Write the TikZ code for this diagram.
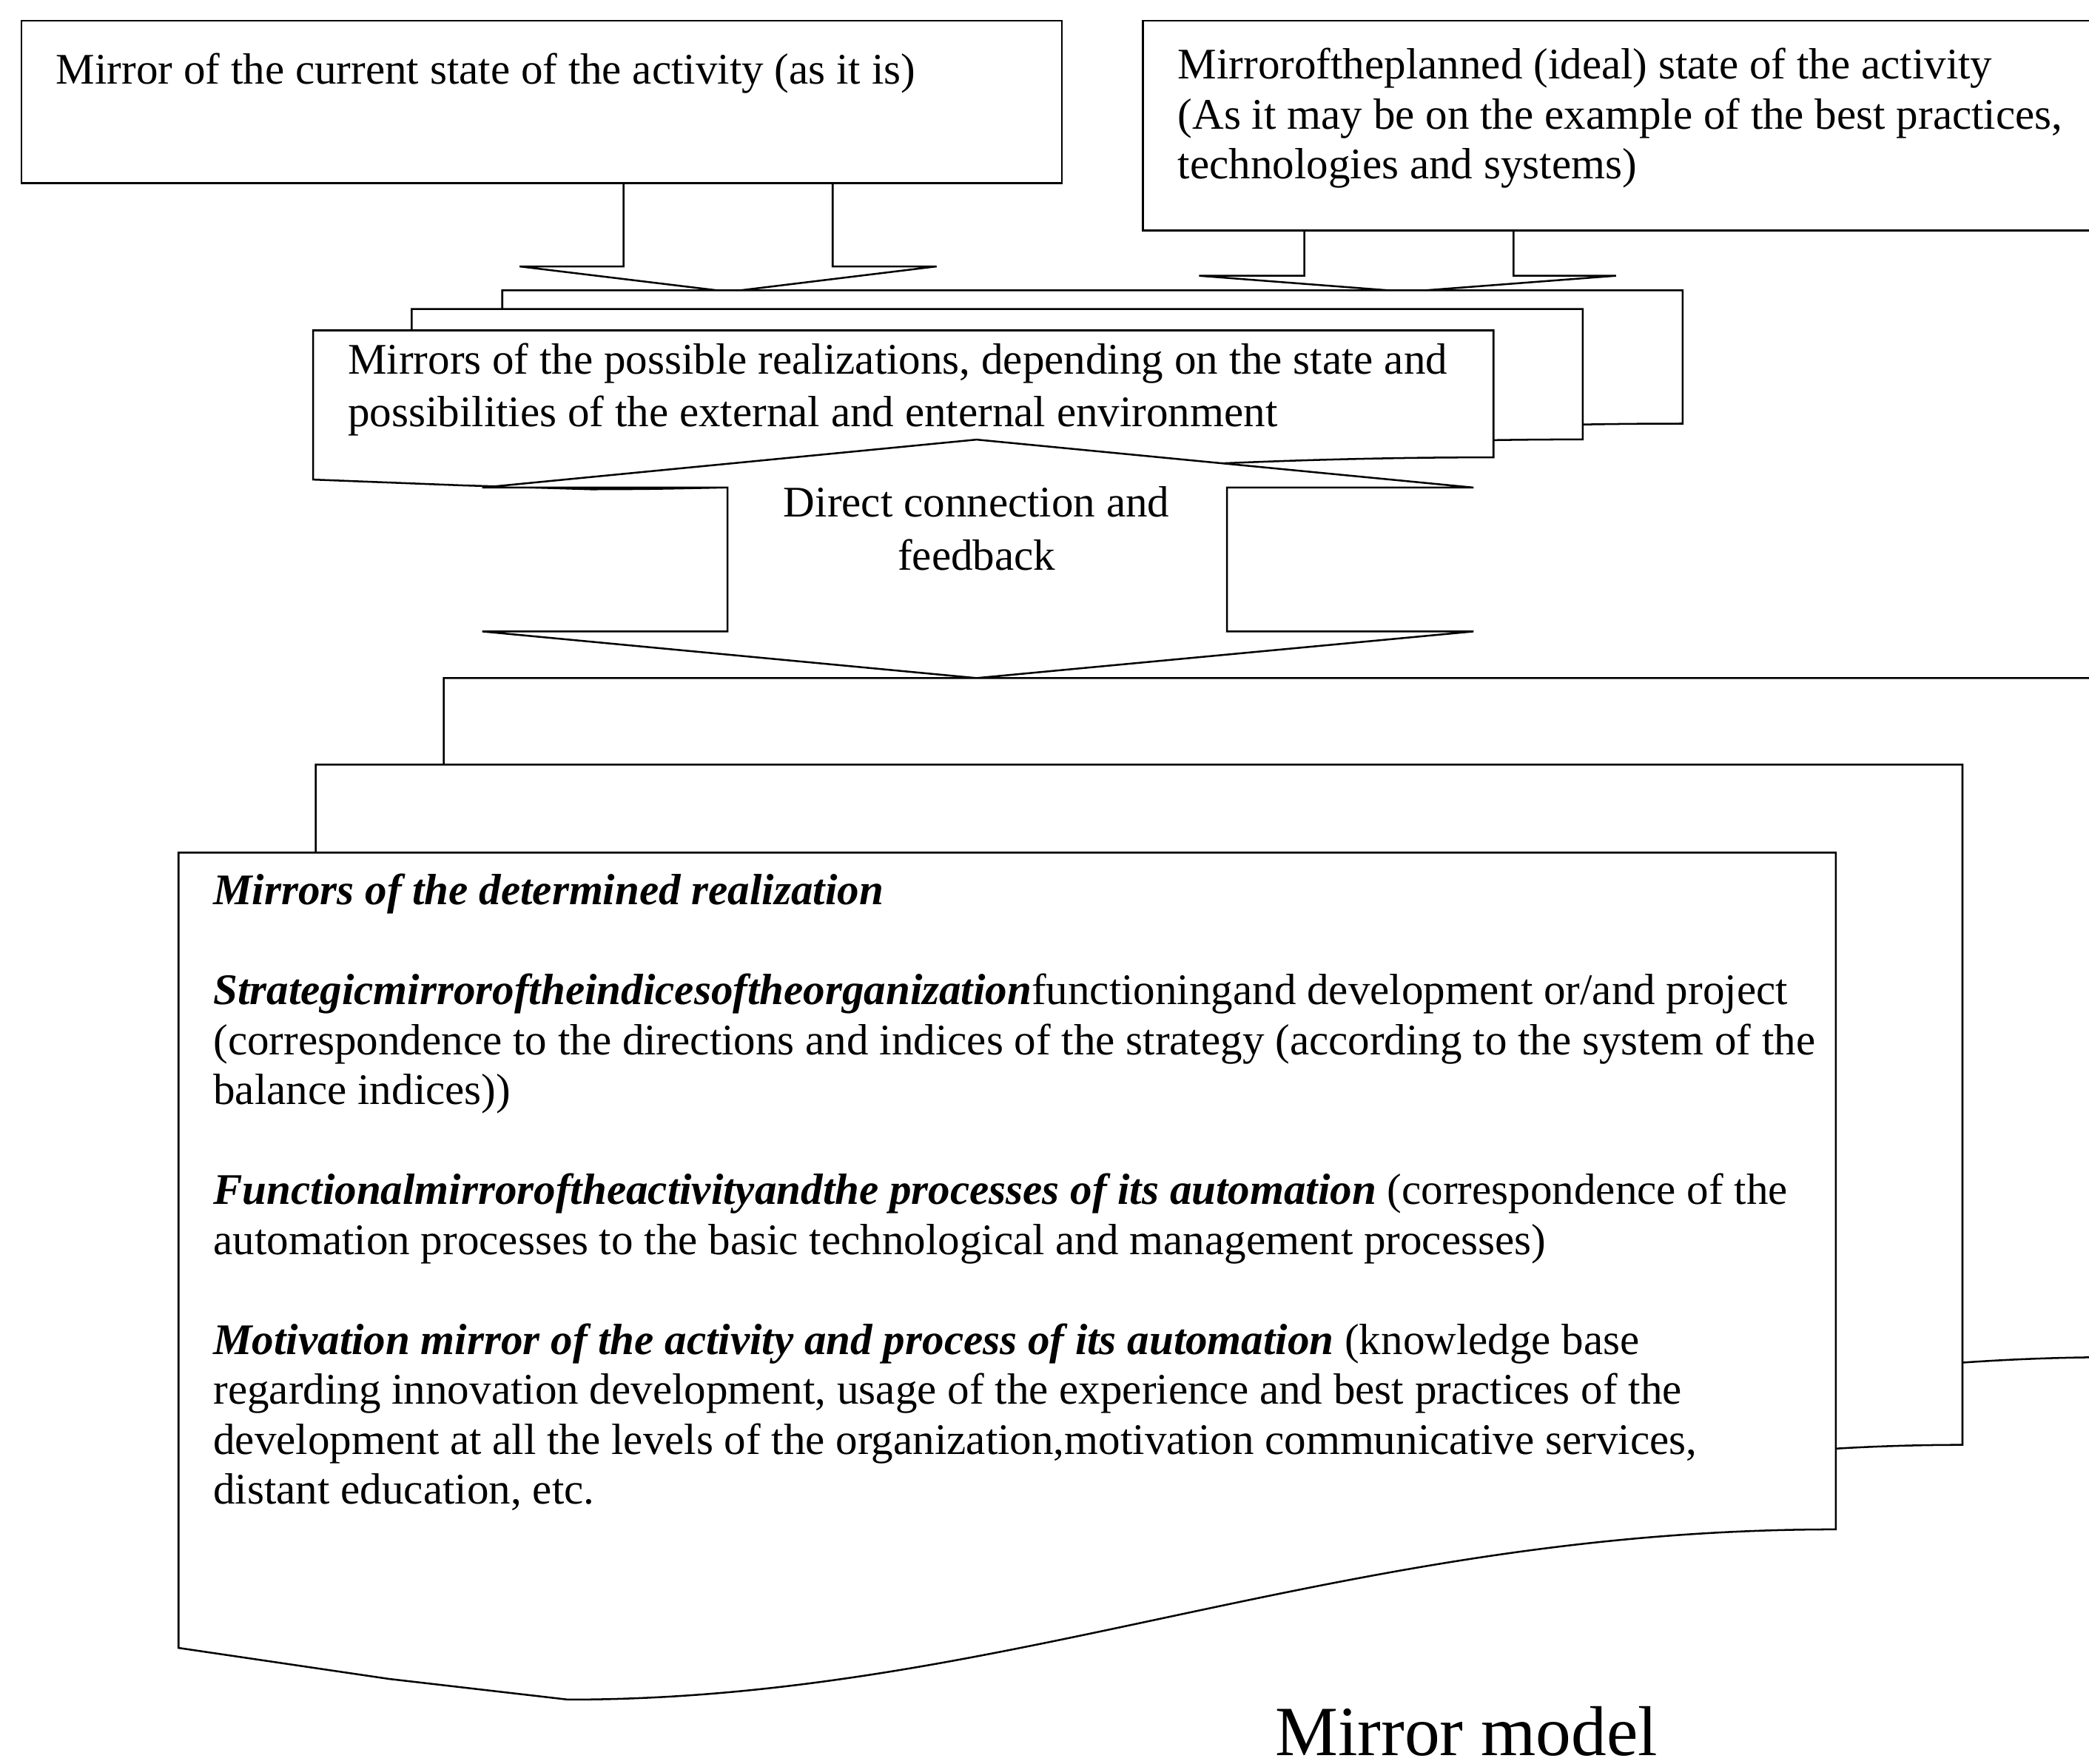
\documentclass[tikz,border=0pt]{standalone}
\usepackage{fontspec}
\setmainfont{Liberation Serif}
\newcommand\bodyfont{\fontsize{32.8}{37.5}\selectfont}
\newcommand\capfont{\fontsize{53}{60}\selectfont}
\newcommand\bi[1]{\textbf{\textit{#1}}}
% document shape: left, top, right, height to left-bottom corner
\newcommand\mydoc[4]{%
  \filldraw[shapeline] (#1,#2) -- (#3,#2) -- (#3,{#2+0.851*#4})
    .. controls ({#1+0.7*(#3-#1)},{#2+0.851*#4}) and ({#1+0.5*(#3-#1)},{#2+1.065*#4}) ..
    ({#1+0.235*(#3-#1)},{#2+1.065*#4})
    -- ({#1+0.127*(#3-#1)},{#2+1.039*#4})
    -- (#1,{#2+#4}) -- cycle;}
\tikzset{
  shapeline/.style={draw=black, fill=white, line width=1.4pt, line join=miter},
  txt/.style={anchor=base west, inner sep=0pt, font=\bodyfont},
  ctxt/.style={anchor=base, inner sep=0pt, font=\bodyfont},
}
\begin{document}
\begin{tikzpicture}[x=1pt,y=-1pt]
\useasboundingbox (0,0) rectangle (1568,1324);
\clip (0,0) rectangle (1568,1324);
\fill[white] (0,0) rectangle (1568,1324);

% block arrows from the two top boxes
\filldraw[shapeline] (468,137) -- (468,200) -- (390,200) -- (547,219) -- (703,200) -- (625,200) -- (625,137);
\filldraw[shapeline] (979,173) -- (979,207) -- (900,207) -- (1056,219) -- (1213,207) -- (1136,207) -- (1136,173);

% top boxes
\filldraw[shapeline] (16,15.5) rectangle (797,137.5);
\filldraw[shapeline] (858,15.5) rectangle (1590,173);

% upper stack of documents
\mydoc{377}{218}{1263}{117.5}
\mydoc{309}{232}{1188}{115}
\mydoc{235}{248}{1121}{112}

% double block arrow
\filldraw[shapeline] (733,330) -- (1106,366) -- (921,366) -- (921,474) -- (1106,474) -- (733,509)
  -- (362,474) -- (546,474) -- (546,366) -- (362,366) -- cycle;

% lower stack of documents
\mydoc{333}{509}{1590}{599}
\mydoc{237}{574}{1473}{600}
\mydoc{134}{640}{1378}{597}

% texts
\node[txt] (t1) at (42,63) {Mirror of the current state of the activity (as it is)};
\node[txt] (t2a) at (884,59) {Mirroroftheplanned (ideal) state of the activity};
\node[txt] (t2b) at (884,97) {(As it may be on the example of the best practices,};
\node[txt] (t2c) at (884,134) {technologies and systems)};
\node[txt] (t3a) at (261,281) {Mirrors of the possible realizations, depending on the state and};
\node[txt] (t3b) at (261,320) {possibilities of the external and enternal environment};
\node[ctxt] (t4a) at (733,388) {Direct connection and};
\node[ctxt] (t4b) at (733,428) {feedback};
\node[txt] (l1) at (160,679) {\bi{Mirrors of the determined realization}};
\node[txt] (l2) at (160,754) {\bi{Strategicmirroroftheindicesoftheorganization}functioningand development or/and project};
\node[txt] (l3) at (160,791.5) {(correspondence to the directions and indices of the strategy (according to the system of the};
\node[txt] (l4) at (160,829) {balance indices))};
\node[txt] (l5) at (160,904) {\bi{Functionalmirroroftheactivityandthe processes of its automation} (correspondence of the};
\node[txt] (l6) at (160,941.5) {automation processes to the basic technological and management processes)};
\node[txt] (l7) at (160,1016.5) {\bi{Motivation mirror of the activity and process of its automation} (knowledge base};
\node[txt] (l8) at (160,1054) {regarding innovation development, usage of the experience and best practices of the};
\node[txt] (l9) at (160,1091.5) {development at all the levels of the organization,motivation communicative services,};
\node[txt] (l10) at (160,1129) {distant education, etc.};
\node[anchor=base west, inner sep=0pt, font=\capfont] (cap) at (957,1318) {Mirror model};
\end{tikzpicture}
\end{document}
